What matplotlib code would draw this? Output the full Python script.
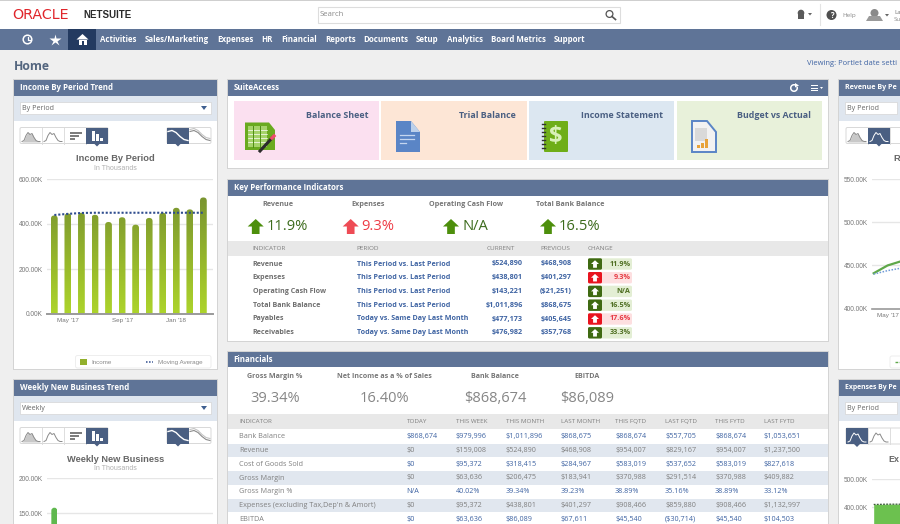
"""NetSuite home dashboard screenshot, redrawn with matplotlib."""
import matplotlib
matplotlib.use("Agg")
import matplotlib.pyplot as plt
import numpy as np
from matplotlib.colors import LinearSegmentedColormap
from matplotlib.patches import Arc, FancyBboxPatch, Polygon, Rectangle, Circle

plt.rcParams["font.family"] = ["Open Sans", "DejaVu Sans"]

W, H = 900, 524

# --- data -------------------------------------------------------------
NAV_ITEMS = ["Activities", "Sales/Marketing", "Expenses", "HR", "Financial",
             "Reports", "Documents", "Setup", "Analytics", "Board Metrics", "Support"]
NAV_X = [100, 145, 217, 261, 281, 325, 363, 416, 447, 491, 554]

TILES = ["Balance Sheet", "Trial Balance", "Income Statement", "Budget vs Actual"]

INCOME = [438, 447, 450, 441, 409, 430, 397, 427, 450, 472, 465, 518]
INCOME_AVG = [440, 445, 449, 450, 450, 450, 450, 450, 450, 450, 450, 450]
INCOME_TICKS = [0, 200, 400, 600]
MONTH_POS = [1, 5, 9]
MONTH_LABELS = ["May '17", "Sep '17", "Jan '18"]

WEEKLY = [158]
WEEKLY_TICKS = [150, 200]

REVENUE = [441, 450, 455]
REVENUE_AVG = [440, 444, 447]
REVENUE_TICKS = [400, 450, 500, 550]

EXPENSES = [410, 411, 411]
EXPENSES_TICKS = [400, 500]

KPI_TOP_LABELS = ["Revenue", "Expenses", "Operating Cash Flow", "Total Bank Balance"]
KPI_TOP_VALUES = ["11.9%", "9.3%", "N/A", "16.5%"]
KPI_TOP_BAD = [False, True, False, False]

KPI_NAMES = ["Revenue", "Expenses", "Operating Cash Flow", "Total Bank Balance", "Payables", "Receivables"]
KPI_PERIODS = ["This Period vs. Last Period"] * 4 + ["Today vs. Same Day Last Month"] * 2
KPI_CURRENT = ["$524,890", "$438,801", "$143,221", "$1,011,896", "$477,173", "$476,982"]
KPI_PREVIOUS = ["$468,908", "$401,297", "($21,251)", "$868,675", "$405,645", "$357,768"]
KPI_CHANGE = ["11.9%", "9.3%", "N/A", "16.5%", "17.6%", "33.3%"]
KPI_BAD = [False, True, False, False, True, False]

FIN_TOP_LABELS = ["Gross Margin %", "Net Income as a % of Sales", "Bank Balance", "EBITDA"]
FIN_TOP_VALUES = ["39.34%", "16.40%", "$868,674", "$86,089"]

FIN_HEAD = ["INDICATOR", "TODAY", "THIS WEEK", "THIS MONTH", "LAST MONTH",
            "THIS FQTD", "LAST FQTD", "THIS FYTD", "LAST FYTD"]
FIN_ROWS = [
    ["Bank Balance", "$868,674", "$979,996", "$1,011,896", "$868,675", "$868,674", "$557,705", "$868,674", "$1,053,651"],
    ["Revenue", "$0", "$159,008", "$524,890", "$468,908", "$954,007", "$829,167", "$954,007", "$1,237,500"],
    ["Cost of Goods Sold", "$0", "$95,372", "$318,415", "$284,967", "$583,019", "$537,652", "$583,019", "$827,618"],
    ["Gross Margin", "$0", "$63,636", "$206,475", "$183,941", "$370,988", "$291,514", "$370,988", "$409,882"],
    ["Gross Margin %", "N/A", "40.02%", "39.34%", "39.23%", "38.89%", "35.16%", "38.89%", "33.12%"],
    ["Expenses (excluding Tax,Dep'n & Amort)", "$0", "$95,372", "$438,801", "$401,297", "$908,466", "$859,880", "$908,466", "$1,132,997"],
    ["EBITDA", "$0", "$63,636", "$86,089", "$67,611", "$45,540", "($30,714)", "$45,540", "$104,503"],
]
FIN_LINKED = [True, False, True, False, True, False, True]

# --- colours ----------------------------------------------------------
HEADER = "#5f7497"
NAVY = "#4a5f82"
LINK = "#3f64a3"
GREY_TXT = "#7c7c7c"
UP_GREEN = "#4d8f0c"
BAD_RED = "#ee4b55"

fig = plt.figure(figsize=(W / 100, H / 100), dpi=100, facecolor="#efefef")
bg = fig.add_axes([0, 0, 1, 1])
bg.set_xlim(0, W)
bg.set_ylim(H, 0)
bg.axis("off")


def px_axes(left, top, right, bottom):
    ax = fig.add_axes([left / W, 1 - bottom / H, (right - left) / W, (bottom - top) / H])
    ax.patch.set_alpha(0)
    for s in ("top", "left", "right"):
        ax.spines[s].set_visible(False)
    ax.tick_params(length=0, labelcolor="#777777", pad=2.9)
    ax.tick_params(axis="y", labelsize=4.7)
    ax.tick_params(axis="x", labelsize=4.5)
    ax.yaxis.grid(True, color="#e6e6e6", lw=1)
    ax.set_axisbelow(True)
    return ax


def box(x0, y0, x1, y1, color, ec="none", lw=0, z=1):
    bg.add_patch(Rectangle((x0, y0), x1 - x0, y1 - y0, fc=color, ec=ec, lw=lw, zorder=z))


def rbox(x0, y0, x1, y1, color, ec="none", lw=0, r=2, z=2):
    bg.add_patch(FancyBboxPatch((x0 + r, y0 + r), x1 - x0 - 2 * r, y1 - y0 - 2 * r,
                                boxstyle=f"round,pad={r}", fc=color, ec=ec, lw=lw, zorder=z))


def txt(x, y, s, size=6, color="#555555", weight="normal", ha="left", family=None, z=6):
    bg.text(x, y, s, fontsize=size, color=color, fontweight=weight, ha=ha, va="center",
            family=family or plt.rcParams["font.family"], zorder=z)


def up_arrow(cx, cy, w, h, color, z=5):
    # arrow head on a short stem
    pts = [(cx, cy - h / 2), (cx + w / 2, cy), (cx + w * 0.24, cy), (cx + w * 0.24, cy + h / 2),
           (cx - w * 0.24, cy + h / 2), (cx - w * 0.24, cy), (cx - w / 2, cy)]
    bg.add_patch(Polygon(pts, closed=True, fc=color, ec="none", zorder=z))


def panel(x0, y0, x1, y1, title, pad=5.5, size=5.65):
    box(x0 - 1, y0 - 1, min(x1 + 1, W + 2), y1 + 1, "#d4d4d4", z=1)
    box(x0, y0, x1, y1, "white", z=1)
    box(x0, y0, x1, y0 + 15.5, HEADER, z=2)
    txt(x0 + pad, y0 + 7.8, title, size=size, color="white", weight="bold")


def mini_curve(ox, oy, color, lw=0.7, fill=None):
    xs = np.array([0, 2, 4, 6, 8, 10, 12, 14, 16, 18])
    ys = np.array([11, 10, 5, 2, 4, 3, 7, 10, 11, 11])
    if fill:
        bg.fill_between(ox + xs, oy + ys, oy + 11.5, color=fill, lw=0, zorder=4)
    bg.plot(ox + xs, oy + ys, color=color, lw=lw, zorder=5)


def toggles(x0, y0, active, active_right=None, cells=4):
    # chart type selector: area, line, hbar, vbar
    widths = 22
    end = min(x0 + cells * widths, W + 3)
    rbox(x0, y0, end, y0 + 16, "white", ec="#d8d8d8", lw=0.7, r=1.5, z=3)
    for i in range(1, cells):
        bg.plot([x0 + i * widths] * 2, [y0, y0 + 16], color="#dddddd", lw=0.7, zorder=4)
    ax_cell = x0 + active * widths
    box(ax_cell, y0, ax_cell + widths, y0 + 16, NAVY, z=4)
    bg.add_patch(Polygon([(ax_cell + 8, y0 + 16), (ax_cell + 14, y0 + 16), (ax_cell + 11, y0 + 19)],
                         fc=NAVY, ec="none", zorder=4))
    mini_curve(x0 + 2, y0 + 3, "white" if active == 0 else "#8a8a8a", fill=None if active == 0 else "#c8c8c8")
    mini_curve(x0 + 24, y0 + 3, "white" if active == 1 else "#8a8a8a")
    hx = x0 + 2 * widths + 6
    if hx + 10 < W:
        col = "#7d7d7d"
        for k, ln in enumerate((12, 9, 5)):
            box(hx, y0 + 4 + k * 3, hx + ln, y0 + 6 + k * 3, col, z=5)
    vx = x0 + 3 * widths + 6
    if vx + 10 < W:
        for k, ht in enumerate((10, 7, 3)):
            box(vx + k * 4, y0 + 13 - ht, vx + k * 4 + 2.6, y0 + 13, "white", z=5)
    if active_right is not None:
        rx = active_right
        rbox(rx, y0, rx + 44, y0 + 16, "white", ec="#d8d8d8", lw=0.7, r=1.5, z=3)
        box(rx, y0, rx + 22, y0 + 16, NAVY, z=4)
        bg.add_patch(Polygon([(rx + 8, y0 + 16), (rx + 14, y0 + 16), (rx + 11, y0 + 19)],
                             fc=NAVY, ec="none", zorder=4))
        cx = np.array([0, 4, 8, 12, 16, 20])
        cy = np.array([4, 3, 5, 9, 12, 13])
        bg.plot(rx + 1 + cx, y0 + cy, color="white", lw=1, zorder=5)
        bg.plot(rx + 23 + cx, y0 + cy, color="#8a8a8a", lw=0.8, zorder=5)
        bg.plot(rx + 23 + cx, y0 + cy - 2, color="#c4c4c4", lw=0.8, zorder=5)


def select_strip(x0, x1, y0, label, arrow=True):
    box(x0, y0 + 15.5, x1, y0 + 41, "#dfe6ef", z=2)
    sx1 = min(x1 - 6, W + 3)
    box(x0 + 6, y0 + 22, sx1, y0 + 34, "white", ec="#d5d5d5", lw=0.5, z=3)
    txt(x0 + 8, y0 + 28, label, size=5.1, color="#666666")
    if arrow:
        bg.add_patch(Polygon([(sx1 - 10, y0 + 26), (sx1 - 4, y0 + 26), (sx1 - 7, y0 + 30)],
                             fc="#3f5f90", ec="none", zorder=4))


def rounded_bars(ax, xs, vals, width, aspect, cmap, shade=None):
    # bars come from ax.bar, the fill is a gradient clipped to a rounded shape
    bars = ax.bar(xs, vals, width, color="none")
    for b, v in zip(bars, vals):
        x0 = b.get_x()
        top = 1.0 if shade is None else v / shade
        im = ax.imshow(np.linspace(top, 0, 64).reshape(-1, 1), extent=[x0, x0 + width, 0, v],
                       aspect="auto", cmap=cmap, vmin=0, vmax=1, zorder=2)
        clip = FancyBboxPatch((x0, v * -0.2), width, v * 1.2,
                              boxstyle=f"round,pad=0,rounding_size={width / 2}",
                              mutation_aspect=aspect, transform=ax.transData)
        im.set_clip_path(clip)


# --- page chrome ------------------------------------------------------
box(0, 0, W, 29, "white")
box(0, 0, W, 1, "#cfcfcf", z=2)
txt(12.5, 15, "ORACLE", size=10.3, color="#e0252b", family="DejaVu Sans")
txt(83, 15.5, "NETSUITE", size=7.0, color="#2a2a2a", weight="bold", family="Liberation Sans")
box(317.5, 7, 620, 23, "white", ec="#dddddd", lw=0.8, z=2)
txt(320, 15, "Search", size=5.6, color="#8c8c8c")
bg.add_patch(Circle((609.5, 14), 3.4, fc="none", ec="#555555", lw=0.9, zorder=4))
bg.plot([612, 615.5], [16.5, 19.5], color="#555555", lw=1.2, zorder=4)
# top right: bell-ish icon, help, avatar
bg.add_patch(Circle((801, 13), 3.3, fc="#5a5a5a", ec="none", zorder=4))
box(798, 13, 804, 19, "#5a5a5a", z=4)
bg.add_patch(Polygon([(808, 13), (812, 13), (810, 15.5)], fc="#666666", zorder=4))
bg.plot([819.5, 819.5], [4, 25], color="#e4e4e4", lw=0.8, zorder=3)
bg.add_patch(Circle((831.5, 15), 5, fc="#4f4f4f", ec="none", zorder=4))
txt(831.5, 15, "?", size=5.6, color="white", weight="bold", ha="center")
txt(842.5, 15.5, "Help", size=4.6, color="#8a8a8a")
bg.add_patch(Circle((874.5, 13), 4, fc="#8a8a8a", ec="none", zorder=4))
bg.add_patch(Polygon([(866, 21), (883, 21), (880, 16), (869, 16)], fc="#9a9a9a", zorder=4))
bg.add_patch(Polygon([(885, 14), (889, 14), (887, 16.5)], fc="#666666", zorder=4))
txt(894, 12, "La", size=4.4, color="#777777")
txt(894, 19.5, "Su", size=4.4, color="#8a8a8a")

box(0, 29, W, 50, HEADER)
box(68, 29, 96, 50, "#233a60", z=2)
bg.add_patch(Circle((27.5, 39.5), 4.3, fc="none", ec="white", lw=1.1, zorder=4))
bg.plot([27.5, 27.5, 30], [36.8, 40, 40], color="white", lw=0.9, zorder=4)
bg.plot([55], [39.5], marker="*", ms=9, color="white", mec="none", zorder=4)
bg.add_patch(Polygon([(76.5, 39.5), (82.5, 34), (88.5, 39.5)], fc="white", zorder=4))
box(78.5, 39.5, 86.5, 44.5, "white", z=4)
box(81.5, 41, 83.5, 44.5, "#233a60", z=5)
for name, x in zip(NAV_ITEMS, NAV_X):
    txt(x, 39.8, name, size=5.7, color="white", weight="bold")

txt(13.5, 67, "Home", size=8.8, color="#54667f", weight="bold")
txt(807, 63.8, "Viewing: Portlet date setti", size=5.5, color=LINK)

# --- left column ------------------------------------------------------
panel(14, 80, 217, 369, "Income By Period Trend")
select_strip(14, 217, 80, "By Period")
toggles(20, 127.5, 3, active_right=167)
txt(115.5, 158.5, "Income By Period", size=6.65, color="#666666", weight="bold", ha="center", family="Liberation Sans")
txt(115.5, 168, "In Thousands", size=5.0, color="#b0b0b0", ha="center", family="Liberation Sans")

ax = px_axes(47, 179, 213, 314)
x = np.arange(len(INCOME))
income_cmap = LinearSegmentedColormap.from_list("income", ["#add42b", "#94b42c", "#7a9530"])
ax.set_xlim(-0.54, 11.71)
ax.set_ylim(0, 600)
rounded_bars(ax, x, INCOME, 0.5, (600 / 135) * 13.55, income_cmap, shade=518)
ax.set_xlim(-0.54, 11.71)
ax.set_ylim(0, 600)
ax.plot(x, INCOME_AVG, color="#2f4d8e", lw=1.5, ls=(0, (1, 0.9)), zorder=3)
ax.set_yticks(INCOME_TICKS)
ax.set_yticklabels([f"{v:.2f}K" for v in INCOME_TICKS], family="Liberation Sans")
ax.set_xticks(MONTH_POS)
ax.set_xticklabels(MONTH_LABELS, family="Liberation Sans")
ax.spines["bottom"].set_color("#9a9a9a")
ax.spines["bottom"].set_linewidth(1.4)

rbox(75.5, 355.5, 211, 368, "white", ec="#eeeeee", lw=0.7, r=2, z=3)
bg.add_patch(Rectangle((79.5, 358.5), 7.5, 6, fc="#92b02c", zorder=4))
txt(91.5, 362.3, "Income", size=4.5, color="#8a8a8a", family="Liberation Sans")
bg.plot([146, 153], [362, 362], color="#2f4d8e", lw=1.1, ls=(0, (1, 1)), zorder=4)
txt(158, 362.3, "Moving Average", size=4.5, color="#8a8a8a", family="Liberation Sans")

panel(14, 380, 217, 528, "Weekly New Business Trend")
select_strip(14, 217, 380, "Weekly")
toggles(20, 427.5, 3, active_right=167)
txt(115.5, 459, "Weekly New Business", size=6.65, color="#666666", weight="bold", ha="center", family="Liberation Sans")
txt(115.5, 468, "In Thousands", size=5.0, color="#b0b0b0", ha="center", family="Liberation Sans")

ax = px_axes(47, 478.3, 213, 524)
ax.spines["bottom"].set_visible(False)
weekly_cmap = LinearSegmentedColormap.from_list("weekly", ["#5fb84e", "#5fb84e"])
rounded_bars(ax, np.arange(len(WEEKLY)), WEEKLY, 0.44, (50 / 35) * 13.55, weekly_cmap)
ax.set_xlim(-0.54, 11.71)
ax.set_ylim(200 - 45.7 / 35 * 50, 200)
ax.set_yticks(WEEKLY_TICKS)
ax.set_yticklabels([f"{v:.2f}K" for v in WEEKLY_TICKS], family="Liberation Sans")
ax.set_xticks([])

# --- SuiteAccess ------------------------------------------------------
panel(228, 80, 828, 168, "SuiteAccess")
bg.add_patch(Arc((794, 88), 6.5, 6.5, theta1=-20, theta2=290, ec="white", lw=1.1, zorder=4))
bg.add_patch(Polygon([(795, 83), (799, 85.5), (795, 87.5)], fc="white", zorder=4))
for yy in (85.5, 88, 90.5):
    box(811, yy - 0.5, 818, yy + 0.5, "white", z=4)
bg.add_patch(Polygon([(820, 87), (823, 87), (821.5, 89)], fc="white", zorder=4))
TILE_X = [(234, 379, "#fbe0f0"), (381, 527, "#fde6d6"), (529, 674, "#dce7f1"), (677, 822, "#e8f1da")]
TILE_RIGHT = [368, 516, 663, 811]
for (x0, x1, col), name, xr in zip(TILE_X, TILES, TILE_RIGHT):
    box(x0, 101, x1, 160, col, z=2)
    txt(xr, 115.3, name, size=6.4, color=NAVY, weight="bold", ha="right")

# balance sheet icon
bg.add_patch(Polygon([(245, 122.5), (269, 122.5), (275, 130), (275, 150), (245, 150)], fc="#69aa1f", zorder=3))
box(248, 125.5, 267, 147, "#a5d36a", z=4)
for yy in (130, 134, 138, 142):
    bg.plot([248, 267], [yy, yy], color="white", lw=0.5, zorder=5)
for xx in (253, 260):
    bg.plot([xx, xx], [125.5, 147], color="#4c8c14", lw=0.7, zorder=5)
bg.plot([260, 272], [151, 138], color="#2b2b2b", lw=2.2, zorder=6)
bg.plot([272, 274], [138, 136], color="#ee4b6a", lw=2.4, zorder=6)
# blue document icon
bg.add_patch(Polygon([(396, 121), (411, 121), (420, 132), (420, 152), (396, 152)], fc="#5a85c6", zorder=3))
bg.add_patch(Polygon([(411, 121), (420, 132), (411, 132)], fc="#bcd0ea", zorder=4))
for yy, xe in zip((135, 139, 143), (414, 414, 406)):
    bg.plot([400, xe], [yy, yy], color="#c5d6ef", lw=0.9, zorder=5)
# income statement icon
rbox(544, 121, 568, 152, "#6fae18", r=1, z=3)
for yy in range(124, 151, 4):
    bg.plot([541.5, 545], [yy, yy], color="#333333", lw=1, zorder=5)
txt(556, 136.5, "$", size=17, color="#d9f0b8", weight="bold", ha="center")
# budget document icon
bg.add_patch(Polygon([(692, 121), (707, 121), (716, 132), (716, 152), (692, 152)], fc="#f2f2f2", ec="#5a85c6", lw=1.4, zorder=3))
box(695, 128, 707, 141, "#d9d9d9", z=4)
for xx, hh in zip((697, 701, 705), (3, 5, 9)):
    box(xx, 148 - hh, xx + 2.6, 148, "#e8a33a", z=5)

# --- KPI --------------------------------------------------------------
panel(228, 180, 828, 341, "Key Performance Indicators")
KPI_LAB_X = [277.7, 368, 465.7, 570]
ARROW_X = [255.7, 350.7, 451, 548]
VAL_X = [267, 361.7, 462, 559]
for lab, val, bad, lx, ax_, vx in zip(KPI_TOP_LABELS, KPI_TOP_VALUES, KPI_TOP_BAD, KPI_LAB_X, ARROW_X, VAL_X):
    txt(lx, 204.3, lab, size=5.2, color="#777777", weight="bold", ha="center")
    up_arrow(ax_, 226.5, 16, 15, BAD_RED if bad else UP_GREEN)
    txt(vx, 226.6, val, size=10.6, color="#ee3a44" if bad else "#3c6b1c")

box(228, 241, 828, 256, "#e8e8e8", z=2)
for x0, name in zip((252.7, 356.7, 486.7, 540, 588), ("INDICATOR", "PERIOD", "CURRENT", "PREVIOUS", "CHANGE")):
    txt(x0, 248.7, name, size=4.6, color="#7f7f7f")
KPI_Y = [264, 277.7, 291.4, 305.2, 319, 332.8]
for yy, name, per, cur, prev, chg, bad in zip(KPI_Y, KPI_NAMES, KPI_PERIODS, KPI_CURRENT, KPI_PREVIOUS, KPI_CHANGE, KPI_BAD):
    txt(252.7, yy, name, size=5.15, color="#6f6f6f", weight="bold")
    txt(356.7, yy, per, size=5.15, color=LINK, weight="bold")
    txt(523, yy, cur, size=5.25, color=LINK, weight="bold", ha="right")
    txt(571.7, yy, prev, size=5.25, color=LINK, weight="bold", ha="right")
    rbox(588, yy - 5.7, 632, yy + 5.7, "#fddfe0" if bad else "#e3eed4", r=1.5, z=3)
    rbox(588, yy - 5.7, 602, yy + 5.7, "#e8141f" if bad else "#3f6a12", r=1.5, z=4)
    up_arrow(595, yy, 8, 7.5, "white", z=5)
    txt(630.5, yy, chg, size=5.2, color="#e63a44" if bad else "#4f6f22", weight="bold", ha="right")

# --- Financials -------------------------------------------------------
panel(228, 351.5, 828, 528, "Financials")
for lab, val, cx in zip(FIN_TOP_LABELS, FIN_TOP_VALUES, (275, 384, 495, 586.7)):
    txt(cx, 377, lab, size=5.15, color="#777777", weight="bold", ha="center")
    txt(cx, 399, val, size=10.5, color="#868686", ha="center")
box(228, 414, 828, 429, "#e8e8e8", z=2)
FIN_X = [239, 406.7, 455.7, 506, 560.7, 615, 665, 715, 764]
for x0, name in zip(FIN_X, FIN_HEAD):
    txt(x0, 421.5, name, size=4.5, color="#7f7f7f")
FIN_Y = [436.7, 450.4, 464.2, 478, 491.7, 505.4, 519.2]
for i, (yy, row, linked) in enumerate(zip(FIN_Y, FIN_ROWS, FIN_LINKED)):
    if i % 2 == 1:
        box(228, yy - 6.8, 828, yy + 6.8, "#e1e7ef", z=2)
    for j, (x0, cell) in enumerate(zip(FIN_X, row)):
        col = "#808080" if j == 0 or not linked else LINK
        txt(x0, yy, cell, size=5.25, color=col)

# --- right column (cut off by the screenshot) --------------------------
panel(839, 80, W + 3, 369, "Revenue By Pe", pad=6, size=5.1)
select_strip(839, W + 3, 80, "By Period", arrow=False)
toggles(846, 127.5, 1, cells=3)
txt(893, 158.5, "R", size=6.65, color="#666666", weight="bold", family="Liberation Sans")
ax = px_axes(872.3, 179, 1040, 308.7)
ax.set_xlim(-0.1, 12)
ax.set_ylim(400, 550)
ax.plot(np.arange(len(REVENUE)), REVENUE, color="#5fa84a", lw=1.6, zorder=3, clip_on=True)
ax.plot(np.arange(len(REVENUE_AVG)), REVENUE_AVG, color="#6f9bd6", lw=1.1, ls=(0, (1, 1)), zorder=3)
ax.set_yticks(REVENUE_TICKS)
ax.set_yticklabels([f"{v:.2f}K" for v in REVENUE_TICKS], family="Liberation Sans")
ax.set_xticks([1])
ax.set_xticklabels(["May '17"], family="Liberation Sans")
ax.spines["bottom"].set_color("#9a9a9a")
ax.spines["bottom"].set_linewidth(1.2)
rbox(890, 356, W + 3, 368, "white", ec="#eeeeee", lw=0.7, r=2, z=3)
bg.plot([895, 900], [362, 362], color="#5fa84a", lw=1, ls=(0, (2, 1)), zorder=4)

panel(839, 380, W + 3, 528, "Expenses By Pe", pad=6, size=4.95)
select_strip(839, W + 3, 380, "By Period", arrow=False)
toggles(846, 428, 0, cells=3)
txt(888.5, 459, "Ex", size=6.4, color="#666666", weight="bold", family="Liberation Sans")
ax = px_axes(872.3, 479, 1040, 524)
ax.spines["bottom"].set_visible(False)
xs = np.arange(len(EXPENSES))
ax.set_xlim(-0.1, 12)
ax.set_ylim(500 - 45 / 28.3 * 100, 500)
ax.fill_between(xs, 0, EXPENSES, color="#6cc14f", lw=0, zorder=2)
ax.plot(xs, EXPENSES, color="#3c5a3a", lw=0.9, ls=(0, (1.5, 1)), zorder=3)
ax.set_yticks(EXPENSES_TICKS)
ax.set_yticklabels([f"{v:.2f}K" for v in EXPENSES_TICKS], family="Liberation Sans")
ax.set_xticks([])

fig.savefig("out.png", dpi=100, facecolor=fig.get_facecolor())
